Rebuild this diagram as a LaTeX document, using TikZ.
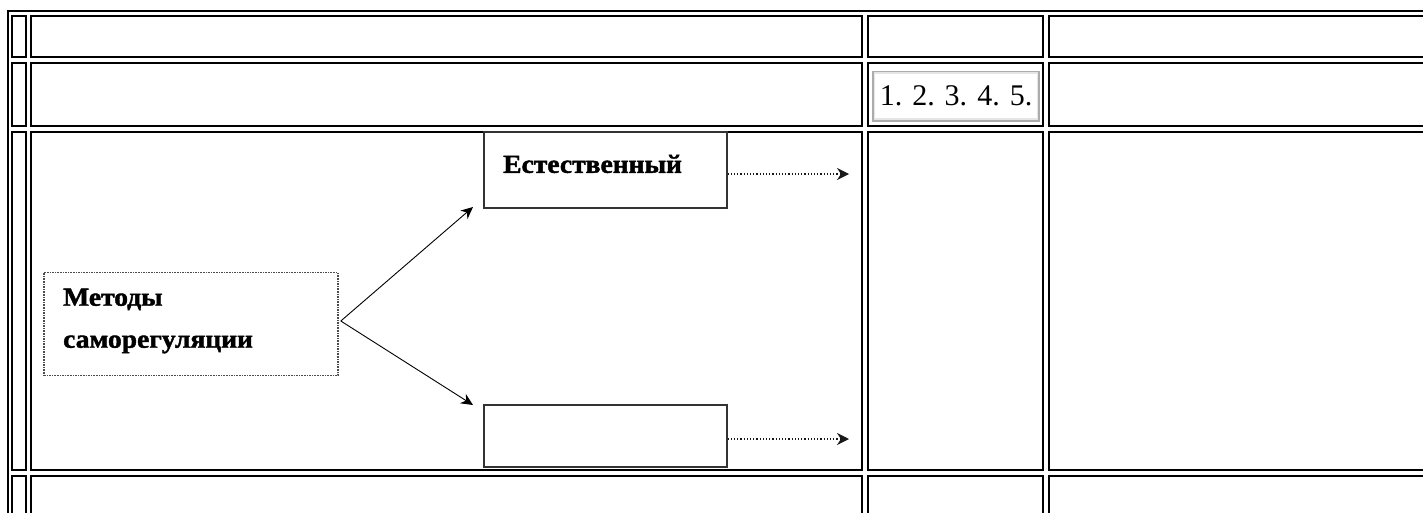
\documentclass[tikz,border=0pt]{standalone}
\usepackage{fontspec}
\setmainfont{Liberation Serif}
\newfontfamily\heavyfont[FakeBold=1.6,FakeStretch=1.06]{Liberation Serif Bold}
\usetikzlibrary{arrows.meta}

\begin{document}
\begin{tikzpicture}[x=1pt,y=-1pt,every text node part/.style={align=left}]
\tikzstyle{cell}=[draw=black,line width=2pt]
\tikzstyle{frame}=[draw=black!80,line width=1.3pt,inner sep=0pt]
\tikzstyle{dotframe}=[draw=black!70,line width=1.6pt,densely dotted,inner sep=0pt]
\tikzstyle{heavy}=[font=\fontsize{26}{42}\selectfont\heavyfont,inner sep=0pt]
\tikzstyle{diag}=[black,line width=0.9pt,-{Stealth[length=12pt,width=11pt]}]
\tikzstyle{dotarrow}=[black!90,line width=1.2pt,dotted,-{Stealth[length=12pt,width=12pt]}]
\useasboundingbox (0,0) rectangle (1423,512);
\fill [white] (0,0) rectangle (1423,512);
\draw [cell] (8,11) rectangle (1440,530);
\foreach \xa/\xb in {12/26,31/862,868/1043,1049/1440}
  \foreach \ya/\yb in {16/57,63/126,132/470,476/530}
    \draw [cell] (\xa,\ya) rectangle (\xb,\yb);
\node (numbers) [draw=gray!65,line width=2pt,minimum width=166pt,minimum height=49pt,inner sep=0pt,font=\fontsize{30}{36}\selectfont] at (956,96) {1. 2. 3. 4. 5.};
\draw [gray!20,line width=1.5pt] ([shift={(2.5pt,-2.5pt)}]numbers.north west) rectangle ([shift={(-2.5pt,2.5pt)}]numbers.south east);
\node (metody) [dotframe,minimum width=294pt,minimum height=103pt] at (191,324) {};
\node (metodylbl) [heavy,anchor=west] at (63,321) {Методы\\саморегуляции};
\node (estest) [frame,minimum width=243pt,minimum height=76pt] at (605.5,170) {};
\node (estestlbl) [heavy,anchor=west] at (503,164) {Естественный};
\node (vtoroi) [frame,minimum width=243pt,minimum height=62pt] at (605.5,436) {};
\coordinate (topend) at (473,207);
\coordinate (lowend) at (473,405);
\coordinate (rightup) at (849,174);
\coordinate (rightlow) at (849,439);
\draw [diag] ([xshift=2pt,yshift=3pt]metody.east) -- (topend);
\draw [diag] ([xshift=2pt,yshift=3pt]metody.east) -- (lowend);
\draw [dotarrow] ([yshift=-4pt]estest.east) -- (rightup);
\draw [dotarrow] ([yshift=-3pt]vtoroi.east) -- (rightlow);
\end{tikzpicture}
\end{document}
